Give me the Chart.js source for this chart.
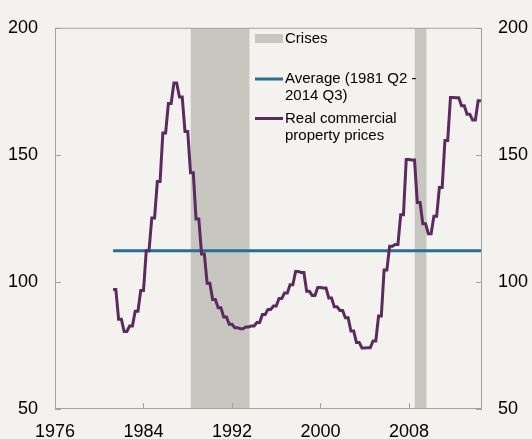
<!DOCTYPE html>
<html>
<head>
<meta charset="utf-8">
<script src="https://cdn.jsdelivr.net/npm/chart.js@4"></script>
<style>
  html, body { margin: 0; padding: 0; background: #f4f2ee; }
  #wrap { width: 532px; height: 439px; }
</style>
</head>
<body>
<div id="wrap"><canvas id="myChart" width="532" height="439"></canvas></div>
<script>
//Chart data

//first quarter of the series is 1981 Q2, one value per quarter
const quarterStart = 1981.25;
const prices = [
  97.0, 97.0, 85.3, 85.3, 80.5, 80.5, 82.7, 82.7, 88.5, 88.5,
  96.6, 96.6, 112.3, 112.3, 125.2, 125.2, 139.5, 139.5, 158.6, 158.6,
  170.2, 170.2, 178.3, 178.3, 172.8, 172.8, 159.2, 159.2, 143.0, 143.0,
  124.8, 124.8, 111.0, 111.0, 99.5, 99.5, 93.1, 93.1, 89.8, 89.8,
  86.2, 86.2, 83.3, 83.3, 82.0, 82.0, 81.6, 81.6, 82.3, 82.3,
  82.7, 82.7, 84.0, 84.0, 87.2, 87.2, 89.2, 89.2, 90.5, 90.5,
  93.5, 93.5, 95.6, 95.6, 98.9, 98.9, 104.1, 104.1, 103.7, 103.7,
  96.3, 96.3, 94.7, 94.7, 97.8, 97.8, 97.6, 97.6, 93.7, 93.7,
  90.2, 90.2, 88.8, 88.8, 85.9, 85.9, 80.7, 80.7, 76.2, 76.2,
  74.0, 74.0, 74.1, 74.1, 76.8, 76.8, 86.6, 86.6, 104.7, 104.7,
  114.0, 114.0, 114.7, 114.7, 126.4, 126.4, 148.2, 148.2, 148.0, 148.0,
  131.3, 131.3, 122.9, 122.9, 119.0, 119.0, 125.8, 125.8, 137.2, 137.2,
  155.7, 155.7, 172.6, 172.6, 172.5, 172.5, 169.3, 169.3, 166.0, 166.0,
  163.7, 163.7, 171.3, 171.3
];

//Average (1981 Q2 - 2014 Q3)
const avgValue = 112.3;

//Crisis periods
const crisisStart = [1988.25, 2008.5];
const crisisEnd = [1993.6, 2009.6];

//Axes
const xMin = 1976, xMax = 2014.6;
const xTicks = [1976, 1984, 1992, 2000, 2008];
const yMin = 50, yMax = 200;
const yTicks = [50, 100, 150, 200];

const legendLabels = ['Crises', ['Average (1981 Q2 -', '2014 Q3)'], ['Real commercial', 'property prices']];

//Colours
const bgColor = '#f4f2ee';
const crisisColor = '#c8c6c1';
const avgColor = '#2b6d8d';
const priceColor = '#5c2a5f';
const frameColor = '#a3a3a3';
const fontFam = '"Liberation Sans", Arial, sans-serif';

const priceData = prices.map((v, i) => ({ x: quarterStart + i * 0.25, y: v }));
const avgData = [{ x: quarterStart, y: avgValue }, { x: xMax, y: avgValue }];

const crisisSets = crisisStart.map((s, i) => ({
  data: [{ x: s, y: yMax }, { x: crisisEnd[i], y: yMax }],
  borderWidth: 0,
  pointRadius: 0,
  backgroundColor: crisisColor,
  fill: 'start',
  order: 3
}));

//background, frame and inward ticks
const framePlugin = {
  id: 'frame',
  beforeDraw(chart) {
    const ctx = chart.ctx;
    ctx.save();
    ctx.fillStyle = bgColor;
    ctx.fillRect(0, 0, chart.width, chart.height);
    ctx.restore();
  },
  afterDatasetsDraw(chart) {
    const ctx = chart.ctx;
    const a = chart.chartArea;
    const xs = chart.scales.x, ys = chart.scales.y;
    ctx.save();
    ctx.strokeStyle = frameColor;
    ctx.lineWidth = 1;
    ctx.strokeRect(a.left + 0.5, a.top + 0.5, a.right - a.left - 1, a.bottom - a.top - 1);
    ctx.beginPath();
    xTicks.forEach(t => {
      const px = Math.round(xs.getPixelForValue(t)) + 0.5;
      ctx.moveTo(px, a.bottom);
      ctx.lineTo(px, a.bottom - 6);
    });
    yTicks.forEach(t => {
      const py = Math.round(ys.getPixelForValue(t)) + 0.5;
      ctx.moveTo(a.left, py);
      ctx.lineTo(a.left + 6, py);
      ctx.moveTo(a.right, py);
      ctx.lineTo(a.right - 6, py);
    });
    ctx.stroke();
    ctx.restore();
  }
};

//legend drawn inside the plot
const legendPlugin = {
  id: 'customLegend',
  afterDraw(chart) {
    const ctx = chart.ctx;
    const x0 = 255, x1 = 283, tx = 285;
    ctx.save();
    ctx.font = '15px ' + fontFam;
    ctx.fillStyle = '#000';
    ctx.textBaseline = 'middle';
    ctx.textAlign = 'left';

    ctx.fillStyle = crisisColor;
    ctx.fillRect(x0, 34, x1 - x0, 9);
    ctx.fillStyle = '#000';
    ctx.fillText(legendLabels[0], tx, 38.5);

    ctx.strokeStyle = avgColor;
    ctx.lineWidth = 3;
    ctx.beginPath(); ctx.moveTo(x0, 79); ctx.lineTo(x1, 79); ctx.stroke();
    ctx.fillText(legendLabels[1][0], tx, 78.5);
    ctx.fillText(legendLabels[1][1], tx, 95.5);

    ctx.strokeStyle = priceColor;
    ctx.beginPath(); ctx.moveTo(x0, 118.5); ctx.lineTo(x1, 118.5); ctx.stroke();
    ctx.fillText(legendLabels[2][0], tx, 118.5);
    ctx.fillText(legendLabels[2][1], tx, 135.5);
    ctx.restore();
  }
};

const tickFont = { family: fontFam, size: 18 };

const ctx = document.getElementById('myChart').getContext('2d');
const myChart = new Chart(ctx, {
  type: 'line',
  data: {
    datasets: [
      ...crisisSets,
      {
        data: avgData,
        borderColor: avgColor,
        borderWidth: 3,
        pointRadius: 0,
        fill: false,
        order: 2
      },
      {
        data: priceData,
        borderColor: priceColor,
        borderWidth: 3,
        pointRadius: 0,
        tension: 0,
        fill: false,
        order: 1
      }
    ]
  },
  options: {
    responsive: false,
    animation: false,
    devicePixelRatio: 1,
    layout: { padding: { top: 23, left: 0, right: 0, bottom: 0 } },
    plugins: {
      legend: { display: false },
      tooltip: { enabled: false }
    },
    scales: {
      x: {
        type: 'linear',
        min: xMin,
        max: xMax,
        afterBuildTicks: s => { s.ticks = xTicks.map(v => ({ value: v })); },
        afterFit: s => { s.height = 30; },
        grid: { display: false, drawTicks: false },
        border: { display: false },
        ticks: {
          font: tickFont, color: '#000', padding: 12,
          maxRotation: 0, autoSkip: false,
          callback: v => String(v)
        }
      },
      y: {
        position: 'left',
        min: yMin,
        max: yMax,
        afterBuildTicks: s => { s.ticks = yTicks.map(v => ({ value: v })); },
        afterFit: s => { s.width = 55; },
        grid: { display: false, drawTicks: false },
        border: { display: false },
        ticks: { font: tickFont, color: '#000', padding: 17, callback: v => String(v) }
      },
      y2: {
        position: 'right',
        min: yMin,
        max: yMax,
        afterBuildTicks: s => { s.ticks = yTicks.map(v => ({ value: v })); },
        afterFit: s => { s.width = 50; },
        grid: { display: false, drawTicks: false },
        border: { display: false },
        ticks: { font: tickFont, color: '#000', padding: 16, callback: v => String(v) }
      }
    }
  },
  plugins: [framePlugin, legendPlugin]
});
</script>
</body>
</html>
